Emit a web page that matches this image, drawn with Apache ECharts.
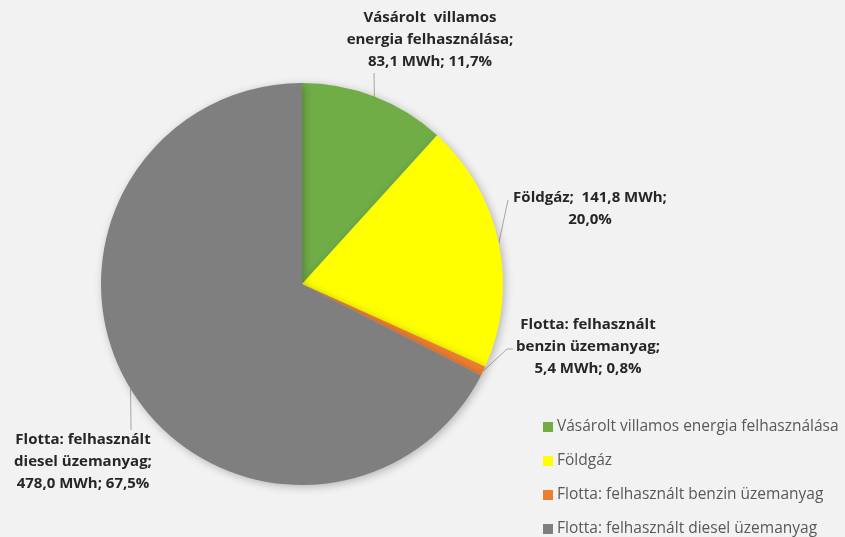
<!DOCTYPE html>
<html>
<head>
<meta charset="utf-8">
<script src="https://cdn.jsdelivr.net/npm/echarts@6/dist/echarts.min.js"></script>
<style>
  html, body { margin: 0; padding: 0; background: #f2f2f2; }
  #main { width: 845px; height: 537px; }
</style>
</head>
<body>
<div id="main"></div>
<script>
var categories = [
  'Vásárolt villamos energia felhasználása',
  'Földgáz',
  'Flotta: felhasznált benzin üzemanyag',
  'Flotta: felhasznált diesel üzemanyag'
];
var values = [83.1, 141.8, 5.4, 478.0];
var percents = ['11,7', '20,0', '0,8', '67,5'];
// label text lines as they appear on the chart
var labelTexts = [
  'Vásárolt  villamos\nenergia felhasználása;\n83,1 MWh; 11,7%',
  'Földgáz;  141,8 MWh;\n20,0%',
  'Flotta: felhasznált\nbenzin üzemanyag;\n5,4 MWh; 0,8%',
  'Flotta: felhasznált\ndiesel üzemanyag;\n478,0 MWh; 67,5%'
];
var colors = ['#70ad47', '#ffff00', '#ed7d31', '#7f7f7f'];

// label centres and leader line bends
var labelPos = [
  { x: 430, y: 40, bend: [[374, 73]] },
  { x: 590, y: 209, bend: [[508, 200]] },
  { x: 588, y: 347, bend: [[507, 349], [513, 349]] },
  { x: 83, y: 462, bend: [[131, 430]] }
];

var myChart = echarts.init(document.getElementById('main'));

var seriesData = categories.map(function (name, i) {
  return { name: name, value: values[i], itemStyle: { color: colors[i] } };
});

myChart.setOption({
  backgroundColor: '#f2f2f2',
  animation: false,
  legend: {
    orient: 'vertical',
    left: 538,
    top: 414,
    height: 130,
    itemWidth: 10,
    itemHeight: 10,
    itemGap: 18,
    itemStyle: { borderWidth: 0 },
    icon: 'rect',
    textStyle: { color: '#595959', fontSize: 15.5, fontFamily: 'Open Sans', padding: [0, 0, 0, -1] },
    data: categories
  },
  series: [{
    type: 'pie',
    center: [302, 284],
    radius: 201,
    startAngle: 90,
    clockwise: true,
    data: seriesData,
    itemStyle: {
      shadowBlur: 8,
      shadowColor: 'rgba(0,0,0,0.25)',
      shadowOffsetX: 2,
      shadowOffsetY: 2
    },
    label: {
      show: true,
      position: 'outside',
      formatter: function (p) { return labelTexts[p.dataIndex]; },
      color: '#262626',
      fontSize: 15,
      fontWeight: 'bold',
      fontFamily: 'Open Sans',
      lineHeight: 22,
      align: 'center',
      overflow: 'none',
      width: 300
    },
    labelLine: {
      show: true,
      length: 10,
      length2: 10,
      lineStyle: { color: '#a6a6a6', width: 1 }
    },
    labelLayout: function (params) {
      var lp = labelPos[params.dataIndex];
      var start = params.labelLinePoints ? params.labelLinePoints[0] : null;
      var pts = [];
      if (start) pts.push(start);
      lp.bend.forEach(function (b) { pts.push(b); });
      return {
        x: lp.x,
        y: lp.y,
        align: 'center',
        verticalAlign: 'middle',
        labelLinePoints: pts.length >= 2 ? pts : undefined
      };
    }
  }]
});
</script>
</body>
</html>
